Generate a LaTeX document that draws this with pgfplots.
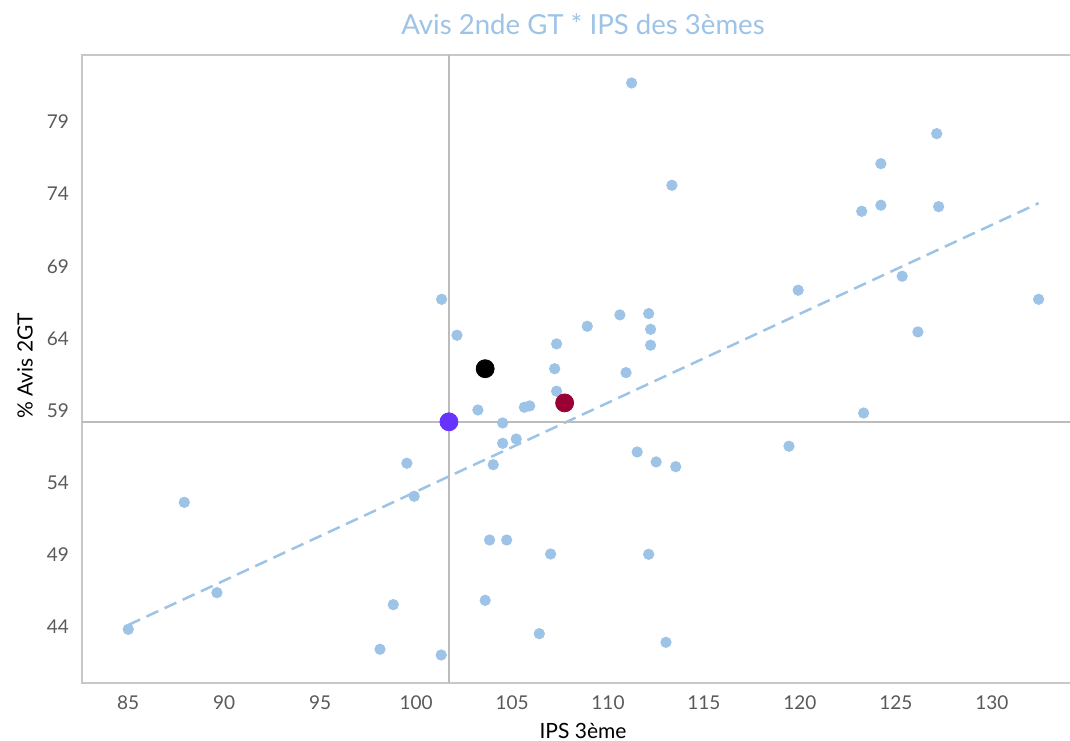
\documentclass[border=0pt]{standalone}
\usepackage{fontspec}
\setmainfont{Lato}
\usepackage{pgfplots}
\pgfplotsset{compat=1.18}
\definecolor{dotblue}{RGB}{157,195,230}
\definecolor{framegray}{RGB}{200,200,200}
\definecolor{linegray}{RGB}{188,188,188}
\definecolor{tickgray}{RGB}{89,89,89}
\definecolor{ptpurple}{RGB}{102,51,255}
\definecolor{ptred}{RGB}{153,0,51}
\begin{document}
\begin{tikzpicture}
\path[use as bounding box] (0,0) rectangle (535pt,370pt);
\begin{axis}[
  at={(41pt,28.5pt)}, anchor=south west,
  width=495pt, height=314pt, scale only axis,
  xmin=82.59, xmax=134.18, ymin=40.12, ymax=83.64,
  xtick={85,90,...,130}, ytick={44,49,...,79},
  major tick length=0pt,
  axis line style={draw=framegray, line width=0.85pt},
  tick label style={font=\fontsize{9.5}{10}\selectfont, text=tickgray},
  /pgf/number format/assume math mode=true,
  xticklabel style={yshift=-3pt},
  yticklabel style={xshift=-3pt},
]
\addplot[dotblue, line width=1.25pt, dash pattern=on 6.5pt off 3.5pt] coordinates {(85,44.14) (132.44,73.37)};
\addplot[linegray, line width=1.3pt] coordinates {(101.71,40.12) (101.71,83.64)};
\addplot[linegray, line width=1.3pt] coordinates {(82.59,58.22) (134.18,58.22)};
\addplot[only marks, mark=*, mark size=2.6pt, color=dotblue, mark options={draw=dotblue, fill=dotblue}] table {
x y
111.23 81.70
127.13 78.19
124.22 76.11
113.33 74.61
123.22 72.81
124.22 73.23
127.23 73.13
125.33 68.31
119.91 67.34
132.44 66.71
101.33 66.71
112.12 65.72
110.62 65.63
108.92 64.84
112.22 64.63
126.15 64.45
102.13 64.22
107.32 63.62
112.22 63.53
107.22 61.90
110.94 61.63
107.32 60.34
105.92 59.32
105.64 59.23
103.22 59.04
104.51 58.14
123.32 58.83
104.51 56.73
105.22 57.03
119.43 56.53
111.52 56.13
112.51 55.44
113.53 55.11
99.52 55.35
104.02 55.25
87.92 52.64
99.90 53.06
103.83 50.03
104.72 50.03
107.01 49.06
112.12 49.04
89.62 46.38
98.81 45.55
103.60 45.85
85.00 43.84
106.42 43.54
113.02 42.94
98.12 42.46
101.31 42.06
};
\addplot[only marks, mark=*, mark size=4.5pt, color=black, mark options={draw=black, fill=black}] coordinates {(103.60,61.90)};
\addplot[only marks, mark=*, mark size=4.5pt, color=ptred, mark options={draw=ptred, fill=ptred}] coordinates {(107.74,59.53)};
\addplot[only marks, mark=*, mark size=4.5pt, color=ptpurple, mark options={draw=ptpurple, fill=ptpurple}] coordinates {(101.71,58.22)};
\end{axis}
\node[text=dotblue, font=\fontsize{13.8}{15}\selectfont] at (291.5pt,358pt) {Avis 2nde GT * IPS des 3èmes};
\node[font=\fontsize{10.5}{12}\selectfont] at (291.5pt,4.5pt) {IPS 3ème};
\node[font=\fontsize{10.5}{12}\selectfont, rotate=90] at (12.5pt,187pt) {\% Avis 2GT};
\end{tikzpicture}
\end{document}
